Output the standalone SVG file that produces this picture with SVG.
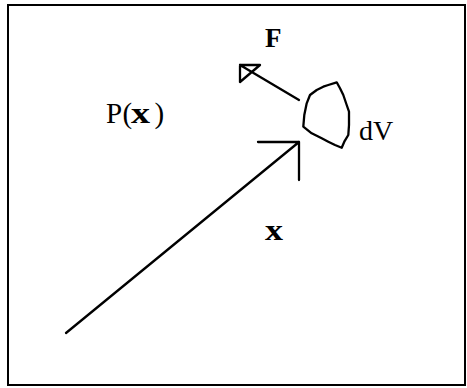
<svg xmlns="http://www.w3.org/2000/svg" width="467" height="388" viewBox="0 0 467 388">
<style>
.ln{fill:none;stroke:#000;stroke-width:2.3;stroke-linecap:round;stroke-linejoin:round}
.t{font-family:"Liberation Serif","Times New Roman",serif;font-size:27px;fill:#000}
.b{font-weight:bold}
.bx{font-weight:bold;font-size:29px}
</style>
<rect x="0" y="0" width="467" height="388" fill="#fff"/>
<rect id="frame" x="8" y="5" width="457" height="380" fill="none" stroke="#000" stroke-width="2"/>
<g id="connectors">
<path id="x-vector" class="ln" d="M66,333 L299,142 M258,142 L299,142 L299,180"/>
<path id="F-vector" class="ln" d="M299,100 L240,65 M240,65 L260,65 L240,82 Z"/>
</g>
<g id="dV">
<path class="ln" d="M336.7,82.3 L340,88.3 L343.3,95 L346.7,105 L349,111.7 L349,125 L348.3,135 L344.3,141.7 L341.7,147.7 L335,145 L328.3,141.7 L321.7,138.3 L311.7,133.3 L303.3,126.7 L304.3,115 L306.7,103.3 L310,95 L316.7,90 L323.3,86.7 L328.3,85 Z"/>
<text class="t" x="359" y="140" style="font-size:28px">dV</text>
</g>
<g id="labels">
<text class="t b" x="265" y="47">F</text>
<text class="t" y="123" style="font-size:29px"><tspan x="106">P</tspan><tspan x="122.5">(</tspan><tspan x="131" class="bx" textLength="19" lengthAdjust="spacingAndGlyphs">x</tspan><tspan x="154.5">)</tspan></text>
<text class="t bx" x="265" y="240" textLength="18" lengthAdjust="spacingAndGlyphs">x</text>
</g>
</svg>
